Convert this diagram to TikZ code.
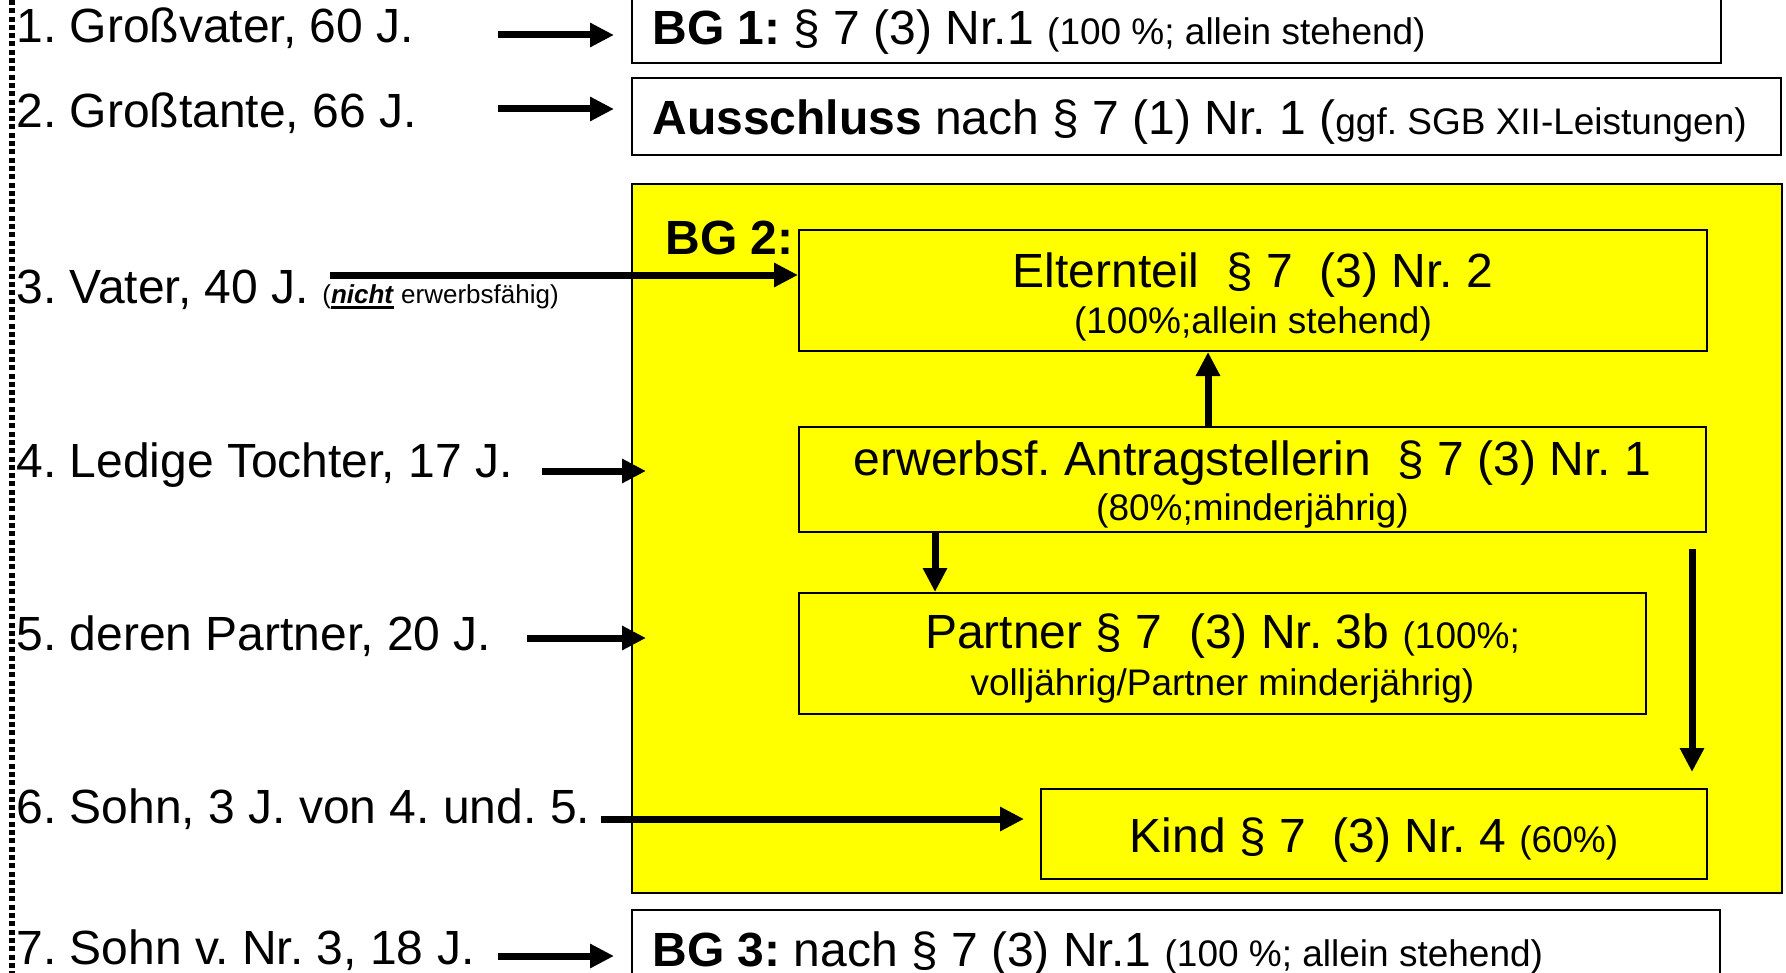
\documentclass[tikz,border=0pt]{standalone}
\usepackage{fontspec}
\setmainfont{Liberation Sans}
\usetikzlibrary{arrows.meta}
\frenchspacing
\newcommand\myL{\fontsize{24}{28}\selectfont}
\newcommand\myS{\fontsize{18.5}{22}\selectfont}
\newcommand\myT{\fontsize{13}{15}\selectfont}
\newcommand\myul[1]{\setbox0\hbox{#1}\rlap{\rule[-2.8pt]{\wd0}{1.3pt}}\box0\relax}
\definecolor{bgyellow}{RGB}{255,255,0}
\begin{document}
\begin{tikzpicture}[x=0.5pt,y=-0.5pt,
  txt/.style={inner sep=0pt, anchor=base west, font=\myL},
  ctxt/.style={inner sep=0pt, anchor=base, font=\myL},
  box/.style={draw=black, line width=1pt, inner sep=0pt, rectangle},
  arr/.style={line width=3.5pt, -{Triangle[length=12pt,width=11.5pt]}},
  dotline/.style={line width=3pt, dash pattern=on 2.5pt off 1.65pt}
]
\useasboundingbox (0,0) rectangle (1786,973);
\clip (0,0) rectangle (1786,973);
\fill[white] (0,0) rectangle (1786,973);

% dotted left line
\coordinate (dtop) at (12,0);
\coordinate (dbot) at (12,973);
\draw[dotline] (dtop) -- (dbot);

% outer boxes
\node[box, fill=white, minimum width=544.5pt, minimum height=41.5pt] (bg1) at (1176.5,21.5) {};
\node[box, fill=white, minimum width=574.5pt, minimum height=38.5pt] (aus) at (1206.5,116.5) {};
\node[box, fill=bgyellow, minimum width=575pt, minimum height=354.5pt] (bg2) at (1207,538.5) {};
\node[box, fill=white, minimum width=544pt, minimum height=45pt] (bg3) at (1176,955) {};

% inner boxes
\node[box, fill=bgyellow, minimum width=454pt, minimum height=60.5pt] (elt) at (1253,290.5) {};
\node[box, fill=bgyellow, minimum width=453.5pt, minimum height=52.5pt] (ant) at (1252.5,479.5) {};
\node[box, fill=bgyellow, minimum width=423.5pt, minimum height=60.5pt] (par) at (1222.5,653.5) {};
\node[box, fill=bgyellow, minimum width=333pt, minimum height=45pt] (kind) at (1374,834) {};

% box texts
\node[txt] (tbg1) at (652,45) {\textbf{BG 1:} § 7 (3) Nr.1 {\myS (100 \%; allein stehend)}};
\node[txt] (taus) at (652,135) {\textbf{Ausschluss} nach § 7 (1) Nr. 1 ({\myS ggf. SGB XII-Leistungen)}};
\node[txt] (tbg3) at (652,966) {\textbf{BG 3:} nach § 7 (3) Nr.1 {\myS (100 \%; allein stehend)}};
\node[txt, font=\myL\bfseries] (bg2lab) at (665,255) {BG 2:};

\node[ctxt] (elt1) at (1253,287) {Elternteil\ \ § 7\ \ (3) Nr. 2};
\node[ctxt, font=\myS] (elt2) at (1253,333) {(100\%;allein stehend)};
\node[ctxt] (ant1) at (1252.5,475) {erwerbsf. Antragstellerin\ \ § 7 (3) Nr. 1};
\node[ctxt, font=\myS] (ant2) at (1252.5,520) {(80\%;minderjährig)};
\node[ctxt] (par1) at (1222.5,648) {Partner § 7\ \ (3) Nr. 3b {\myS (100\%;}};
\node[ctxt, font=\myS] (par2) at (1222.5,695) {volljährig/Partner minderjährig)};
\node[ctxt] (kind1) at (1374,852) {Kind § 7\ \ (3) Nr. 4 {\myS (60\%)}};

% left labels
\node[txt] (l1) at (16,43) {1. Großvater, 60 J.};
\node[txt] (l2) at (16,128) {2. Großtante, 66 J.};
\node[txt] (l3) at (16,303) {3. Vater, 40 J. {\myT(\myul{\textbf{\textit{nicht}}} erwerbsfähig)}};
\node[txt] (l4) at (16,477) {4. Ledige Tochter, 17 J.};
\node[txt] (l5) at (16,650) {5. deren Partner, 20 J.};
\node[txt] (l6) at (16,823) {6. Sohn, 3 J. von 4. und. 5.};
\node[txt] (l7) at (16,964) {7. Sohn v. Nr. 3, 18 J.};

% arrow starts
\coordinate (s1) at (498,35);
\coordinate (s2) at (498,109);
\coordinate (s3) at (330,275);
\coordinate (s4) at (542,471);
\coordinate (s5) at (527,638);
\coordinate (s6) at (601,819);
\coordinate (s7) at (498,956);

\draw[arr] (s1) -- ([xshift=-8.5pt]s1 -| bg1.west);
\draw[arr] (s2) -- ([xshift=-8.5pt]s2 -| aus.west);
\draw[arr] (s3) -- (s3 -| elt.west);
\draw[arr] (s4) -- ([xshift=7.5pt]s4 -| bg2.west);
\draw[arr] (s5) -- ([xshift=7.5pt]s5 -| bg2.west);
\draw[arr] (s6) -- ([xshift=-8pt]s6 -| kind.west);
\draw[arr] (s7) -- ([xshift=-8.5pt]s7 -| bg3.west);

% inner arrows
\draw[arr] (1208,0 |- ant.north) -- (1208,0 |- elt.south);
\draw[arr] (935,0 |- ant.south) -- (935,0 |- par.north);
\draw[arr] ([yshift=-8pt]1692,0 |- ant.south) -- ([yshift=8pt]1692,0 |- kind.north);
\end{tikzpicture}
\end{document}
